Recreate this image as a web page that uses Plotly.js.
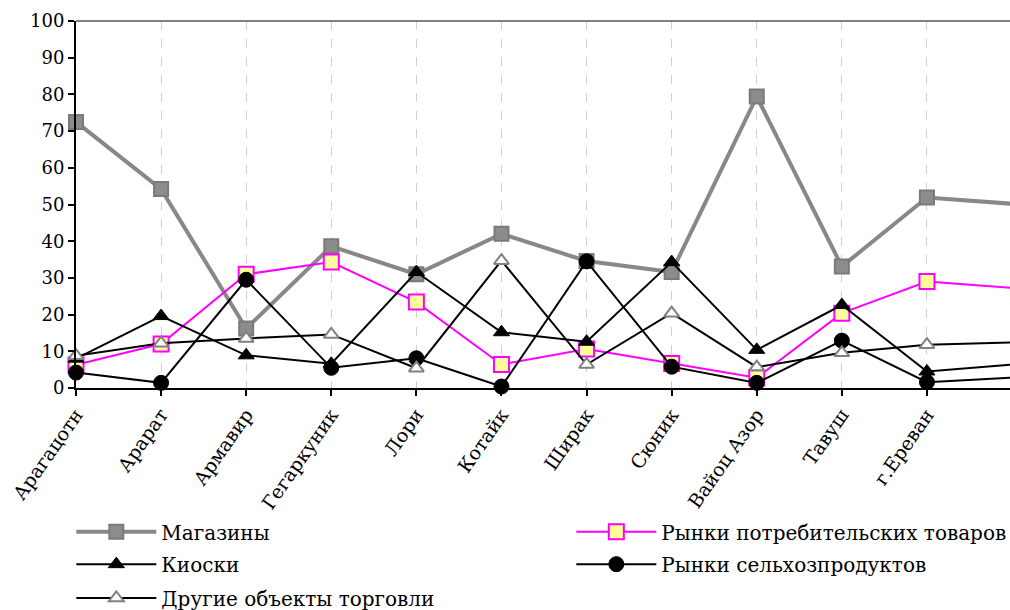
<!DOCTYPE html>
<html>
<head>
<meta charset="utf-8">
<script src="https://cdn.plot.ly/plotly-3.0.1.min.js"></script>
<style>
html,body{margin:0;padding:0;background:#fff;}
#chart svg text{font-family:"DejaVu Serif",serif !important;}
</style>
</head>
<body>
<div id="chart" style="width:1010px;height:610px"></div>
<script>
var regions = ["Арагацотн","Арарат","Армавир","Гегаркуник","Лори","Котайк","Ширак","Сюник","Вайоц Азор","Тавуш","г.Ереван","РА"];
var seriesNames = ["Магазины","Рынки потребительских товаров","Киоски","Рынки сельхозпродуктов","Другие объекты торговли"];
var shops      = [72.5, 54.2, 16.2, 38.6, 31.0, 42.0, 34.6, 31.6, 79.4, 33.1, 51.9, 50.2];
var consumer   = [6.3, 12.0, 31.0, 34.3, 23.4, 6.4, 10.6, 6.7, 2.8, 20.4, 29.0, 27.3];
var kiosks     = [8.0, 19.6, 8.9, 6.6, 31.6, 15.2, 12.6, 34.3, 10.4, 22.6, 4.5, 6.4];
var agri       = [4.2, 1.4, 29.5, 5.5, 8.1, 0.4, 34.5, 5.8, 1.4, 12.9, 1.6, 2.8];
var other      = [8.8, 12.2, 13.5, 14.6, 5.4, 34.7, 6.4, 20.4, 5.7, 9.6, 11.8, 12.4];
var yTicks     = [0,10,20,30,40,50,60,70,80,90,100];

var FONT = "DejaVu Serif";
var xIdx = regions.map(function(_, i){ return i; });

var traces = [
  {name: seriesNames[0], legend: "legend", x: xIdx, y: shops, mode: "lines+markers", cliponaxis: false,
   line: {color: "#888888", width: 4},
   marker: {symbol: "square", size: 14, color: "#8c8c8c", line: {color: "#7a7a7a", width: 2}}},
  {name: seriesNames[1], legend: "legend", x: xIdx, y: consumer, mode: "lines+markers", cliponaxis: false,
   line: {color: "#ff00ff", width: 2},
   marker: {symbol: "square", size: 15, color: "#ffff99", line: {color: "#ff00ff", width: 2}}},
  {name: seriesNames[2], legend: "legend2", x: xIdx, y: kiosks, mode: "lines+markers", cliponaxis: false,
   line: {color: "#000000", width: 2},
   marker: {symbol: "triangle-up", size: 14, color: "#000000", line: {color: "#000000", width: 1}}},
  {name: seriesNames[3], legend: "legend2", x: xIdx, y: agri, mode: "lines+markers", cliponaxis: false,
   line: {color: "#000000", width: 2},
   marker: {symbol: "circle", size: 15, color: "#000000", line: {color: "#000000", width: 1}}},
  {name: seriesNames[4], legend: "legend3", x: xIdx, y: other, mode: "lines+markers", cliponaxis: false,
   line: {color: "#000000", width: 2},
   marker: {symbol: "triangle-up", size: 13, color: "#ffffff", line: {color: "#808080", width: 2}}}
];

function legendAt(yc) {
  return {
    orientation: "h", x: -0.005, y: yc, xanchor: "left", yanchor: "middle",
    entrywidth: 405, itemwidth: 80, font: {family: FONT, size: 20, color: "#000"},
    bgcolor: "rgba(0,0,0,0)", traceorder: "normal"
  };
}

var layout = {
  width: 1010, height: 610,
  margin: {l: 76, r: 0, t: 21, b: 222, autoexpand: false},
  paper_bgcolor: "#ffffff", plot_bgcolor: "#ffffff",
  font: {family: FONT, size: 18, color: "#000000"},
  showlegend: true,
  xaxis: {
    range: [0, 10.976], tickmode: "array", tickvals: xIdx, ticktext: regions,
    tickangle: -55, ticks: "outside", ticklen: 6, tickwidth: 2, tickcolor: "#000",
    showline: true, linecolor: "#000", linewidth: 2, automargin: false,
    showgrid: true, gridcolor: "#d0d0d0", griddash: "dash", gridwidth: 1,
    zeroline: false, tickfont: {family: FONT, size: 19, color: "#000"}, fixedrange: true
  },
  yaxis: {
    range: [0, 100], tickmode: "array", tickvals: yTicks, automargin: false,
    ticks: "outside", ticklen: 6, tickwidth: 2, tickcolor: "#000",
    showline: true, linecolor: "#000", linewidth: 2,
    showgrid: false, zeroline: false, tickfont: {family: FONT, size: 18, color: "#000"}, fixedrange: true
  },
  shapes: [
    {type: "line", xref: "paper", yref: "paper", x0: 0, x1: 1, y0: 1, y1: 1,
     line: {color: "#808080", width: 2}}
  ],
  legend: legendAt(-0.392),
  legend2: legendAt(-0.480),
  legend3: legendAt(-0.572)
};

Plotly.newPlot("chart", traces, layout, {displayModeBar: false, staticPlot: true});
</script>
</body>
</html>
